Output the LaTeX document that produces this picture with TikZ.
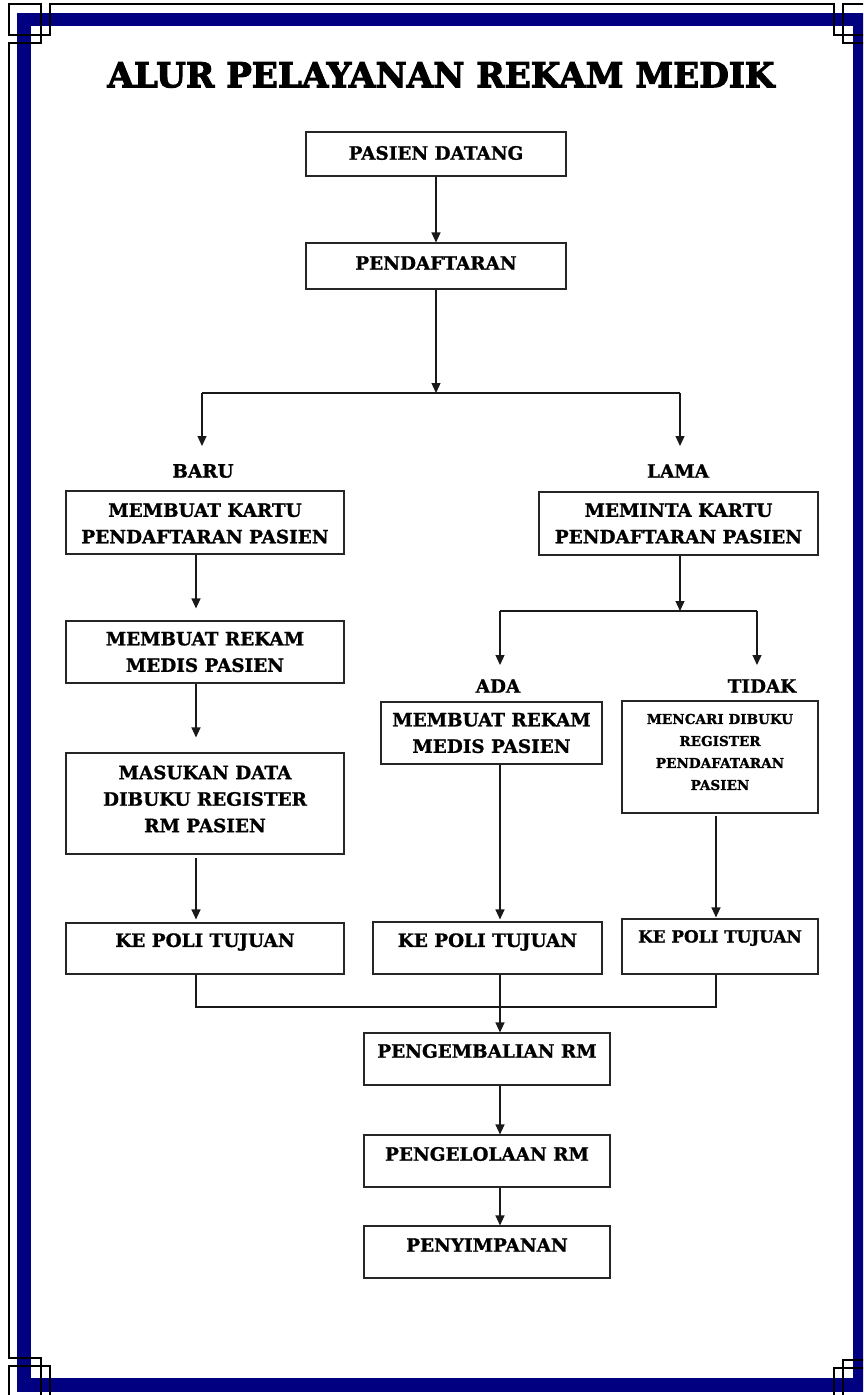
\documentclass[tikz,border=0pt]{standalone}
\usepackage{fontspec}
\setmainfont{DejaVu Serif}[BoldFeatures={FakeBold=1.2}]
\newfontfamily\ttlfont{DejaVu Serif}[BoldFeatures={FakeBold=3}]
\usetikzlibrary{arrows.meta}
\definecolor{navyband}{RGB}{0,0,128}
\begin{document}
\begin{tikzpicture}[x=1pt,y=-1pt,
  box/.style={draw=black!85, line width=1.1pt, inner sep=0pt},
  txt/.style={font=\bfseries\fontsize{18.4}{26.5}\selectfont, align=center, inner sep=0pt},
  smtxt/.style={font=\bfseries\fontsize{13.6}{22}\selectfont, align=center, inner sep=0pt},
  mdtxt/.style={font=\bfseries\fontsize{16.8}{24}\selectfont, align=center, inner sep=0pt},
  conn/.style={draw=black!90, line width=1.2pt},
  arr/.style={conn, -{Triangle[length=10pt,width=9pt]}},
  frame/.style={draw=black, line width=1.5pt}]
\useasboundingbox (0,0) rectangle (863,1395);
\begin{scope}
\clip (0,0) rectangle (863,1395);
\draw[navyband, line width=13.5pt] (24,19.5) rectangle (860,1385);
\draw[frame] (9,43) -- (41,43) -- (41,35) -- (50,35) -- (50,4) -- (834,4) -- (834,35) -- (843,35) -- (843,43) -- (875,43)
  -- (875,1360) -- (843,1360) -- (843,1368) -- (834,1368) -- (834,1397) -- (50,1397) -- (50,1366) -- (41,1366) -- (41,1358) -- (9,1358) -- cycle;
\draw[frame] (9,4) rectangle (41,35);
\draw[frame] (843,4) rectangle (875,35);
\draw[frame] (9,1366) rectangle (41,1397);
\draw[frame] (843,1368) rectangle (875,1397);
\end{scope}

\node[inner sep=0pt] (title) at (441,75) {\resizebox{667pt}{25pt}{\ttlfont\bfseries ALUR PELAYANAN REKAM MEDIK}};

% boxes
\node[box, minimum width=260pt, minimum height=44pt, label={[txt,yshift=1pt]center:{PASIEN DATANG}}] (pd) at (436,154) {};
\node[box, minimum width=260pt, minimum height=46pt, label={[txt,yshift=3pt]center:{PENDAFTARAN}}] (pf) at (436,266) {};
\node[box, minimum width=278pt, minimum height=63pt, label={[txt,yshift=-1pt]center:{MEMBUAT KARTU\\PENDAFTARAN PASIEN}}] (k1) at (205,522.5) {};
\node[box, minimum width=279pt, minimum height=63pt, label={[txt]center:{MEMINTA KARTU\\PENDAFTARAN PASIEN}}] (k2) at (678.5,523.5) {};
\node[box, minimum width=278pt, minimum height=62pt, label={[txt]center:{MEMBUAT REKAM\\MEDIS PASIEN}}] (r1) at (205,652) {};
\node[box, minimum width=278pt, minimum height=101pt, label={[txt,yshift=4.5pt]center:{MASUKAN DATA\\DIBUKU REGISTER\\RM PASIEN}}] (m1) at (205,803.5) {};
\node[box, minimum width=278pt, minimum height=51pt, label={[txt,yshift=6.5pt]center:{KE POLI TUJUAN}}] (p1) at (205,948.5) {};
\node[box, minimum width=221pt, minimum height=62pt, label={[txt]center:{MEMBUAT REKAM\\MEDIS PASIEN}}] (r2) at (491.5,733) {};
\node[box, minimum width=196pt, minimum height=112pt, label={[smtxt,yshift=5pt]center:{MENCARI DIBUKU\\REGISTER\\PENDAFATARAN\\PASIEN}}] (c2) at (720,757) {};
\node[box, minimum width=229pt, minimum height=52pt, label={[txt,yshift=6pt]center:{KE POLI TUJUAN}}] (p2) at (487.5,948) {};
\node[box, minimum width=196pt, minimum height=55pt, label={[mdtxt,yshift=8.5pt]center:{KE POLI TUJUAN}}] (p3) at (720,946.5) {};
\node[box, minimum width=246pt, minimum height=52pt, label={[txt,yshift=8pt]center:{PENGEMBALIAN RM}}] (pe) at (487,1059) {};
\node[box, minimum width=246pt, minimum height=52pt, label={[txt,yshift=7pt]center:{PENGELOLAAN RM}}] (pl) at (487,1161) {};
\node[box, minimum width=246pt, minimum height=52pt, label={[txt,yshift=7pt]center:{PENYIMPANAN}}] (py) at (487,1252) {};

% branch labels
\node[txt] (baru) at (203,471) {BARU};
\node[txt] (lama) at (678,471) {LAMA};
\node[txt] (ada) at (498,686) {ADA};
\node[txt] (tidak) at (762,686) {TIDAK};

% connectors
\draw[arr] (pd.south) -- (pf.north);
\coordinate (br) at (436,393);
\coordinate (bl) at (202,393);
\coordinate (bR) at (680,393);
\coordinate (blt) at (202,446);
\coordinate (bRt) at (680,446);
\draw[arr] (pf.south) -- (br);
\draw[conn] (bl) -- (bR);
\draw[arr] (bl) -- (blt);
\draw[arr] (bR) -- (bRt);

\draw[arr, shorten >=12pt] ([xshift=-9pt]k1.south) -- ([xshift=-9pt]r1.north);
\draw[arr, shorten >=15pt] ([xshift=-9pt]r1.south) -- ([xshift=-9pt]m1.north);
\draw[arr, shorten <=3pt, shorten >=3pt] ([xshift=-9pt]m1.south) -- ([xshift=-9pt]p1.north);

\coordinate (sp) at (680,611);
\coordinate (sl) at (500,611);
\coordinate (sr) at (757,611);
\coordinate (slt) at (500,665);
\coordinate (srt) at (757,665);
\draw[arr] ([xshift=1.5pt]k2.south) -- (sp);
\draw[conn] (sl) -- (sr);
\draw[arr] (sl) -- (slt);
\draw[arr] (sr) -- (srt);

\draw[arr, shorten >=2pt] ([xshift=8.5pt]r2.south) -- ([xshift=12.5pt]p2.north);
\draw[arr, shorten <=2pt, shorten >=1pt] ([xshift=-4pt]c2.south) -- ([xshift=-4pt]p3.north);

\coordinate (mg) at (500,1007);
\draw[conn] ([xshift=-9pt]p1.south) |- (mg) -| ([xshift=-4pt]p3.south);
\draw[arr] ([xshift=12.5pt]p2.south) -- ([xshift=13pt]pe.north);
\draw[arr] ([xshift=13pt]pe.south) -- ([xshift=13pt]pl.north);
\draw[arr] ([xshift=13pt]pl.south) -- ([xshift=13pt]py.north);
\end{tikzpicture}
\end{document}
